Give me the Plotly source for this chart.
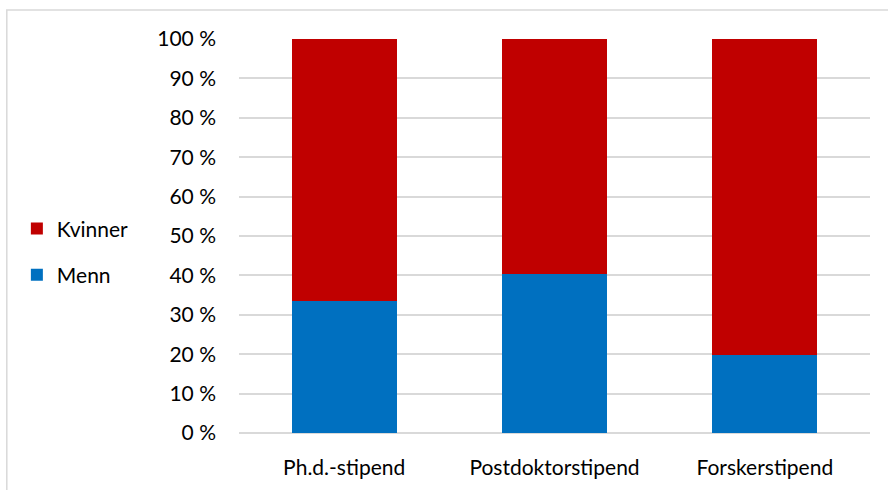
import plotly.graph_objects as go

# Andel menn og kvinner per stipendtype (prosent)
categories = ["Ph.d.-stipend", "Postdoktorstipend", "Forskerstipend"]
menn = [33.6, 40.4, 19.9]
kvinner = [100 - v for v in menn]
y_ticks = list(range(0, 101, 10))
y_ticklabels = [f"{t} %" for t in y_ticks]

FONT = "Lato, 'Open Sans', sans-serif"

fig = go.Figure()
fig.add_trace(go.Bar(
    x=categories, y=menn, name="Menn",
    marker=dict(color="#0070C0", line=dict(width=0)),
    legendgroup="menn", legendrank=2,
))
fig.add_trace(go.Bar(
    x=categories, y=kvinner, name="Kvinner",
    marker=dict(color="#C00000", line=dict(width=0)),
    legendgroup="kvinner", legendrank=1,
))

fig.update_layout(
    barmode="stack",
    bargap=0.5,
    width=888, height=490,
    margin=dict(l=239, r=18, t=39, b=57, autoexpand=False),
    paper_bgcolor="white",
    plot_bgcolor="white",
    font=dict(family=FONT, size=21, color="#000000"),
    showlegend=True,
    legend=dict(
        xref="container", yref="container",
        x=0.019, xanchor="left",
        y=0.486, yanchor="middle",
        traceorder="grouped",
        tracegroupgap=16,
        font=dict(size=21, color="#000000"),
        itemwidth=30,
        bgcolor="rgba(0,0,0,0)",
    ),
    xaxis=dict(
        showgrid=False,
        showline=False,
        ticks="",
        tickfont=dict(size=21),
        ticklabelstandoff=20,
        automargin=False,
        fixedrange=True,
    ),
    yaxis=dict(
        range=[0, 100],
        tickvals=y_ticks,
        ticktext=y_ticklabels,
        showgrid=True,
        gridcolor="#D9D9D9",
        gridwidth=1.5,
        zeroline=True,
        zerolinecolor="#D9D9D9",
        zerolinewidth=2,
        showline=False,
        ticks="",
        ticklabelstandoff=22,
        tickfont=dict(size=21),
        automargin=False,
        fixedrange=True,
    ),
    shapes=[
        # ramme rundt diagramområdet
        dict(
            type="path", xref="paper", yref="paper",
            path="M -0.368 -0.3 L -0.368 1.0735 L 1.2 1.0735",
            line=dict(color="#D9D9D9", width=1.5),
            layer="below",
        ),
    ],
)

fig.write_html("out.html")
